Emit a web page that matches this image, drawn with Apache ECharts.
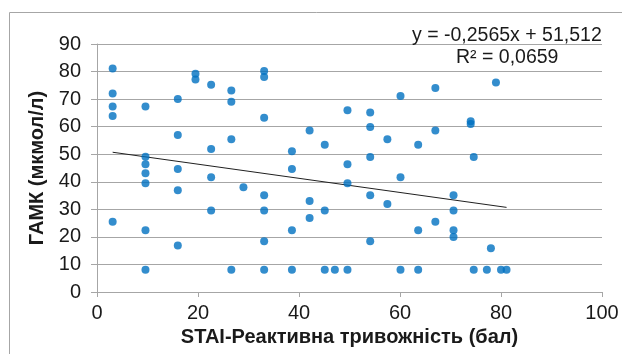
<!DOCTYPE html>
<html>
<head>
<meta charset="utf-8">
<script src="https://cdn.jsdelivr.net/npm/echarts@6/dist/echarts.min.js"></script>
<style>
  html, body { margin: 0; padding: 0; background: #fff; }
  #chart { width: 622px; height: 354px; }
</style>
</head>
<body>
<div id="chart"></div>
<script>
// STAI reactive anxiety score (x) against GABA level (y), one entry per subject
const stai = [
  3.1, 3.1, 3.1, 3.1, 3.1,
  9.6, 9.6, 9.6, 9.6, 9.6, 9.6, 9.6,
  16, 16, 16, 16, 16,
  19.5, 19.5,
  22.6, 22.6, 22.6, 22.6,
  26.6, 26.6, 26.6, 26.6,
  29.0,
  33.1, 33.1, 33.1, 33.1, 33.1, 33.1, 33.1,
  38.6, 38.6, 38.6, 38.6,
  42.1, 42.1, 42.1,
  45.1, 45.1, 45.1,
  47.1,
  49.6, 49.6, 49.6, 49.6,
  54.1, 54.1, 54.1, 54.1, 54.1,
  57.5, 57.5,
  60.1, 60.1, 60.1,
  63.6, 63.6, 63.6,
  67.0, 67.0, 67.0,
  70.6, 70.6, 70.6, 70.6,
  74.0, 74.0,
  74.6, 74.6,
  77.2, 78.0, 79.0, 80.0, 81.1
];
const gaba = [
  81.1, 72.0, 67.3, 63.9, 25.5,
  67.3, 49.1, 46.4, 43.1, 39.5, 22.4, 8.1,
  70.0, 57.0, 44.6, 36.9, 16.9,
  79.2, 77.1,
  75.2, 51.9, 41.6, 29.6,
  73.1, 69.0, 55.4, 8.1,
  38.0,
  80.2, 78.0, 63.2, 35.1, 29.6, 18.4, 8.1,
  51.1, 44.6, 22.4, 8.1,
  58.6, 33.0, 26.9,
  53.4, 29.6, 8.1,
  8.1,
  66.0, 46.4, 39.5, 8.1,
  65.1, 59.9, 49.0, 35.1, 18.4,
  55.4, 31.9,
  71.1, 41.6, 8.1,
  53.4, 22.4, 8.1,
  74.0, 58.6, 25.5,
  35.1, 29.6, 22.4, 20.0,
  62.0, 61.0,
  49.0, 8.1,
  8.1, 15.9, 76.0, 8.1, 8.1
];

// Linear trend reported for the data set
const trendSlope = [-0.2565];
const trendIntercept = [51.512];
const trendR2 = [0.0659];

const xTicks = [0, 20, 40, 60, 80, 100];
const yTicks = [0, 10, 20, 30, 40, 50, 60, 70, 80, 90];

const points = stai.map((x, i) => [x, gaba[i]]);
const xMin = Math.min(...stai);
const xMax = Math.max(...stai);
const trendLine = [xMin, xMax].map(x => [x, trendSlope[0] * x + trendIntercept[0]]);

const fmt = (v, d) => v.toFixed(d).replace('.', ',');
const eqText = 'y = ' + fmt(trendSlope[0], 4) + 'x + ' + fmt(trendIntercept[0], 3);
const r2Text = 'R² = ' + fmt(trendR2[0], 4);

const FONT = '"Liberation Sans", Arial, sans-serif';
const GRID_COLOR = '#a6a6a6';
const TEXT_COLOR = '#1a1a1a';

const chart = echarts.init(document.getElementById('chart'), null, { renderer: 'canvas' });
chart.setOption({
  animation: false,
  backgroundColor: '#ffffff',
  grid: { left: 97, right: 20, top: 44, bottom: 62, containLabel: false },
  xAxis: {
    type: 'value',
    min: xTicks[0],
    max: xTicks[xTicks.length - 1],
    interval: xTicks[1] - xTicks[0],
    name: 'STAI-Реактивна тривожність (бал)',
    nameLocation: 'middle',
    nameGap: 35,
    nameTextStyle: { fontFamily: FONT, fontSize: 20, fontWeight: 'bold', color: TEXT_COLOR },
    axisLine: { show: true, lineStyle: { color: GRID_COLOR, width: 1 } },
    axisTick: { show: true, inside: false, length: 5, lineStyle: { color: GRID_COLOR } },
    axisLabel: { fontFamily: FONT, fontSize: 20, color: TEXT_COLOR, margin: 11 },
    splitLine: { show: false }
  },
  yAxis: {
    type: 'value',
    min: yTicks[0],
    max: yTicks[yTicks.length - 1],
    interval: yTicks[1] - yTicks[0],
    name: 'ГАМК (мкмол/л)',
    nameLocation: 'middle',
    nameRotate: 90,
    nameGap: 41,
    nameTextStyle: { fontFamily: FONT, fontSize: 20, fontWeight: 'bold', color: TEXT_COLOR },
    axisLine: { show: true, lineStyle: { color: GRID_COLOR, width: 1 } },
    axisTick: { show: true, inside: false, length: 6, lineStyle: { color: GRID_COLOR } },
    axisLabel: { fontFamily: FONT, fontSize: 20, color: TEXT_COLOR, margin: 16 },
    splitLine: { show: true, lineStyle: { color: GRID_COLOR, width: 1 } }
  },
  graphic: [
    {
      type: 'rect',
      shape: { x: 9.5, y: 12.5, width: 700, height: 400 },
      style: { fill: 'none', stroke: '#a6a6a6', lineWidth: 1 },
      silent: true,
      z: 0
    },
    {
      type: 'text',
      left: 412,
      top: 26,
      style: { text: eqText, font: '19.5px ' + FONT, fill: TEXT_COLOR },
      z: 10
    },
    {
      type: 'text',
      left: 456,
      top: 48,
      style: { text: r2Text, font: '19.5px ' + FONT, fill: TEXT_COLOR },
      z: 10
    }
  ],
  series: [
    {
      type: 'line',
      data: trendLine,
      showSymbol: false,
      symbol: 'none',
      lineStyle: { color: '#202020', width: 1 },
      z: 3
    },
    {
      type: 'scatter',
      data: points,
      symbol: 'circle',
      symbolSize: 8,
      itemStyle: { color: '#0070c0' },
      z: 4
    }
  ]
});
</script>
</body>
</html>
